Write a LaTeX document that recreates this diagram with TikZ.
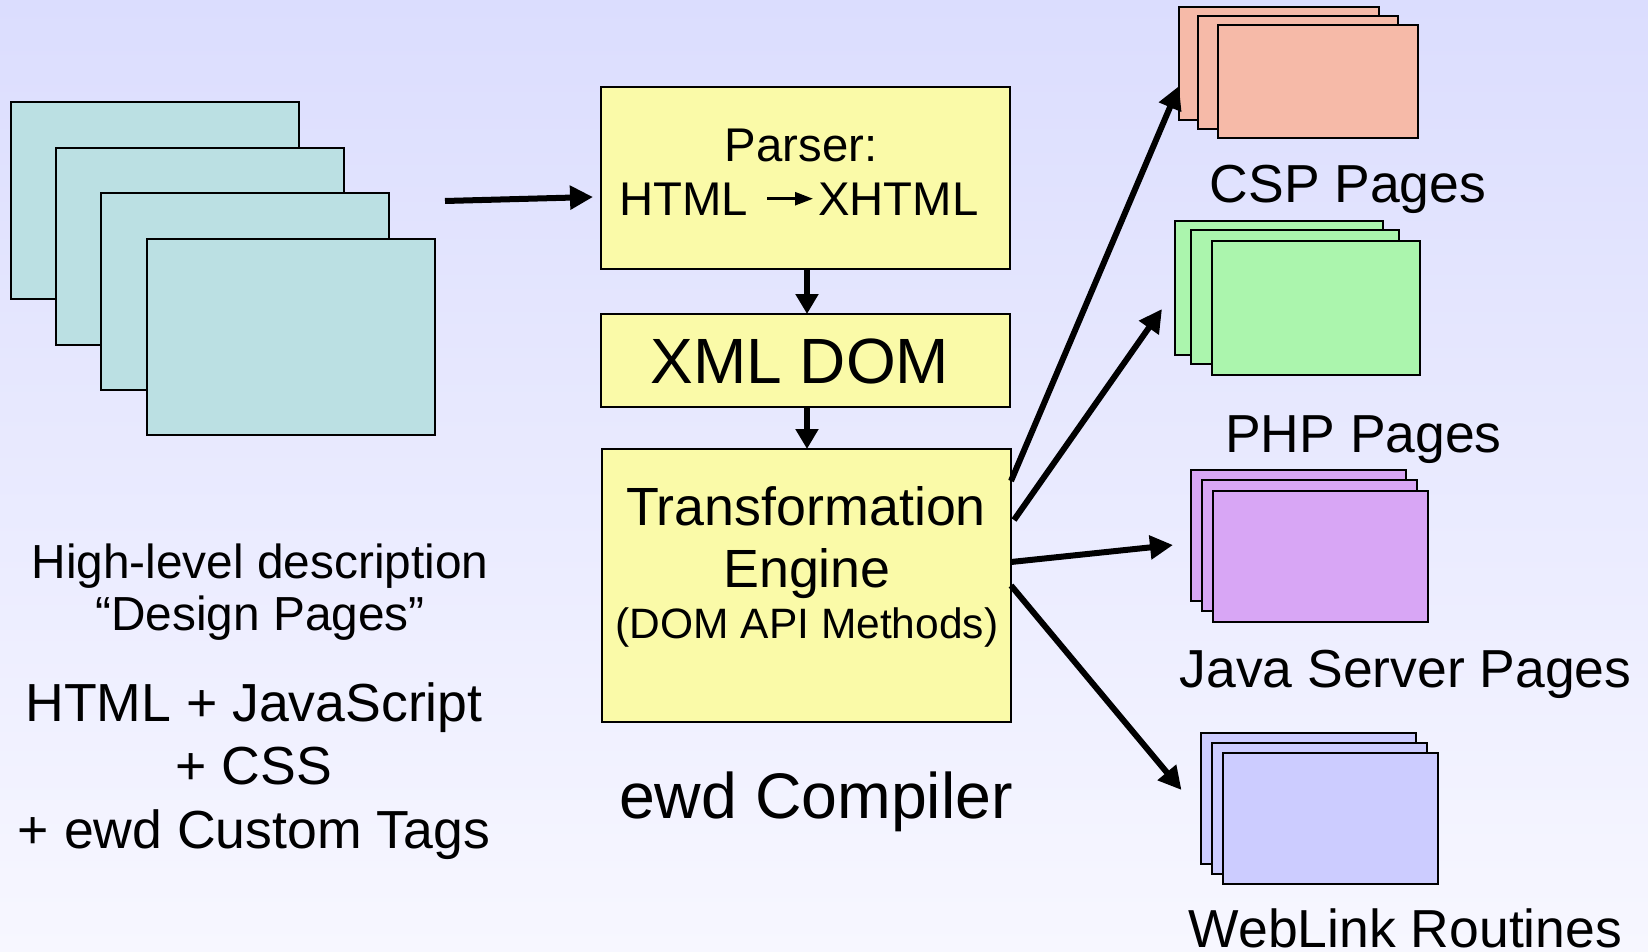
\documentclass[tikz,border=0pt]{standalone}
\usepackage{fontspec}
\setmainfont{Liberation Sans}
\usetikzlibrary{arrows.meta,calc}
\definecolor{bgtop}{RGB}{219,221,254}
\definecolor{bgbot}{RGB}{247,247,255}
\definecolor{teal}{RGB}{187,224,227}
\definecolor{ylw}{RGB}{250,250,168}
\definecolor{salmon}{RGB}{246,186,168}
\definecolor{mint}{RGB}{171,245,173}
\definecolor{lilac}{RGB}{216,166,245}
\definecolor{peri}{RGB}{204,204,255}
\begin{document}
\begin{tikzpicture}[x=1pt,y=-1pt,
  pg/.style={draw=black,line width=2pt,inner sep=0pt,outer sep=0pt},
  leftpg/.style={pg,fill=teal,minimum width=288pt,minimum height=196pt},
  ybox/.style={pg,fill=ylw,minimum width=409pt},
  csp/.style={pg,fill=salmon,minimum width=200pt,minimum height=113pt},
  php/.style={pg,fill=mint,minimum width=208pt,minimum height=134pt},
  jsp/.style={pg,fill=lilac,minimum width=215pt,minimum height=131pt},
  wl/.style={pg,fill=peri,minimum width=215pt,minimum height=131pt},
  txt/.style={inner sep=0pt,outer sep=0pt,anchor=base},
  fA/.style={font=\fontsize{47.8}{53}\selectfont},
  fB/.style={font=\fontsize{53.6}{59}\selectfont},
  fR/.style={font=\fontsize{53.5}{59}\selectfont},
  fD/.style={font=\fontsize{47.3}{53}\selectfont},
  fE/.style={font=\fontsize{53.8}{59}\selectfont},
  fF/.style={font=\fontsize{42.5}{48}\selectfont},
  fG/.style={font=\fontsize{64}{70}\selectfont},
  fH/.style={font=\fontsize{64.4}{70}\selectfont},
  big/.style={line width=6pt,-{Triangle[length=23pt,width=23pt]}},
  down/.style={line width=6pt,-{Triangle[length=20pt,width=22pt]}},
]
\useasboundingbox (0,0) rectangle (1648,952);
\fill[top color=bgtop,bottom color=bgbot] (0,0) rectangle (1648,952);

% left design pages
\node[leftpg] (lp1) at (155,200.5) {};
\node[leftpg] (lp2) at (200,246.5) {};
\node[leftpg] (lp3) at (245,291.5) {};
\node[leftpg] (lp4) at (291,337) {};

% left texts
\node[txt,fA] (t1) at (260,578) {High-level description};
\node[txt,fA] (t2) at (260,630) {“Design Pages”};
\node[txt,fB] (t3) at (254,721) {HTML + JavaScript};
\node[txt,fB] (t4) at (254,784) {+ CSS};
\node[txt,fB] (t5) at (254,848) {+ ewd Custom Tags};

% middle boxes
\node[ybox,minimum height=182pt] (parser) at (805.5,178) {};
\node[txt,fD] (ptitle) at (801,162) {Parser:};
\node[txt,fD,anchor=base east] (html) at (748,215) {HTML};
\node[txt,fD,anchor=base west] (xhtml) at (818,215) {XHTML};
\draw[line width=2.5pt,-{Triangle[length=18pt,width=13pt]},shorten <=19pt,shorten >=5pt] (html.east) -- (xhtml.west);

\node[ybox,minimum height=93pt] (xml) at (805.5,360.5) {};
\node[txt,fG] (xmltxt) at (800,383) {XML DOM};

\node[ybox,minimum height=273pt] (trans) at (806.5,585.5) {};
\node[txt,fE] (tr1) at (806,525) {Transformation};
\node[txt,fE] (tr2) at (807,587) {Engine};
\node[txt,fF] (tr3) at (807,638) {(DOM API Methods)};

\node[txt,fH] (ewd) at (816,818) {ewd Compiler};

% right stacks
\node[csp] (cspa) at (1279,64) {};
\node[csp] (cspb) at (1298,73) {};
\node[csp] (cspc) at (1318,82) {};
\node[txt,fR] (csplbl) at (1348,203) {CSP Pages};

\node[php] (phpa) at (1279,288) {};
\node[php] (phpb) at (1295,297) {};
\node[php] (phpc) at (1316,308) {};
\node[txt,fR] (phplbl) at (1363.5,452) {PHP Pages};

\node[jsp] (jspa) at (1298.5,535.5) {};
\node[jsp] (jspb) at (1309.5,545.5) {};
\node[jsp] (jspc) at (1320.5,556) {};
\node[txt,fR] (jsplbl) at (1405.5,687) {Java Server Pages};

\node[wl] (wla) at (1308,798.5) {};
\node[wl] (wlb) at (1319.5,808.5) {};
\node[wl] (wlc) at (1330.5,818.5) {};
\node[txt,fR] (wllbl) at (1405.5,947) {WebLink Routines};

% connectors
\coordinate (src) at ($(lp4.north east)+(10,-38)$);
\draw[big] (src) -- ($(parser.west)+(-8,19)$);
\draw[down] ([xshift=1.5pt]parser.south) -- ([xshift=1.5pt]xml.north);
\draw[down] ([xshift=1.5pt]xml.south) -- ([xshift=0.5pt]trans.north);

\draw[big] ($(trans.north east)+(0,32)$) -- ($(cspa.west)+(0,22)$);
\draw[big] ($(trans.north east)+(3,71)$) -- ($(phpa.west)+(-13,21)$);
\draw[big] ($(trans.north east)+(0,113)$) -- ($(jspa.west)+(-18,9.5)$);
\draw[big] (trans.east) -- ($(wla.west)+(-19,-8.5)$);
\end{tikzpicture}
\end{document}
